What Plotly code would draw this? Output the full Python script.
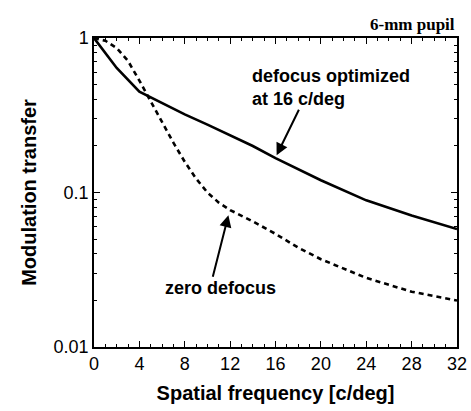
import plotly.graph_objects as go

# Data
freq_opt = [0, 2, 4, 6, 8, 10, 12, 14, 16, 20, 24, 28, 32]
mtf_opt = [1.0, 0.64, 0.45, 0.38, 0.32, 0.275, 0.235, 0.2, 0.167, 0.12, 0.089, 0.071, 0.058]

freq_zero = [0, 1, 2, 3, 4, 5, 6, 7, 8, 9, 10, 11, 12, 14, 16, 18, 20, 24, 28, 32]
mtf_zero = [1.0, 0.96, 0.86, 0.71, 0.53, 0.39, 0.285, 0.21, 0.158, 0.123, 0.1, 0.086, 0.077,
            0.065, 0.054, 0.044, 0.037, 0.028, 0.0228, 0.020]

x_ticks = [0, 4, 8, 12, 16, 20, 24, 28, 32]

SANS = "Liberation Sans"

fig = go.Figure()
fig.add_trace(go.Scatter(x=freq_opt, y=mtf_opt, mode="lines",
                         line=dict(color="black", width=2.6), showlegend=False))
fig.add_trace(go.Scatter(x=freq_zero, y=mtf_zero, mode="lines",
                         line=dict(color="black", width=2.6, dash="5px,4px"), showlegend=False))

fig.update_layout(
    width=471, height=411,
    margin=dict(l=94, r=14, t=38, b=64),
    paper_bgcolor="white", plot_bgcolor="white",
    font=dict(family=SANS, color="black"),
)

fig.update_xaxes(
    range=[0, 32], tickmode="array", tickvals=x_ticks,
    ticks="inside", ticklen=6, tickwidth=1.3, tickcolor="black",
    showline=True, linecolor="black", linewidth=1.5, mirror="ticks",
    showgrid=False, zeroline=False, automargin=False,
    tickfont=dict(family=SANS, size=18),
    minor=dict(dtick=1, tick0=0, ticks="inside", ticklen=3, tickwidth=1.2, tickcolor="black", showgrid=False),
    title=dict(text="Spatial frequency [c/deg]", font=dict(family=SANS, size=20, weight="bold"), standoff=13),
)
fig.update_yaxes(
    type="log", range=[-2, 0], dtick=1, tick0=0,
    ticks="inside", ticklen=6, tickwidth=1.3, tickcolor="black",
    showline=True, linecolor="black", linewidth=1.5, mirror="ticks",
    showgrid=False, zeroline=False, automargin=False,
    tickfont=dict(family=SANS, size=18),
    minor=dict(dtick="D1", ticks="inside", ticklen=3, tickwidth=1.2, tickcolor="black", showgrid=False),
    title=dict(text="Modulation transfer", font=dict(family=SANS, size=20, weight="bold"), standoff=12),
)

fig.add_annotation(xref="paper", yref="paper", x=(250 - 94) / 363, y=1 - (88 - 38) / 309,
                   text="defocus optimized<br>at 16 c/deg", showarrow=False, align="left",
                   xanchor="left", yanchor="middle",
                   font=dict(family=SANS, size=18, weight="bold"))
fig.add_annotation(xref="paper", yref="paper", x=(220 - 94) / 363, y=1 - (288 - 38) / 309,
                   text="zero defocus", showarrow=False,
                   xanchor="center", yanchor="middle",
                   font=dict(family=SANS, size=18, weight="bold"))
fig.add_annotation(xref="paper", yref="paper", x=1, y=1 - (24 - 38) / 309,
                   text="6-mm pupil", showarrow=False, xanchor="right", yanchor="middle",
                   font=dict(family="Liberation Serif", size=17, weight="bold"))
fig.add_annotation(x=16.1, y=-0.759, xref="x", yref="y", text="", showarrow=True,
                   ax=23, ay=-47, arrowhead=2, arrowsize=1.2, arrowwidth=2, arrowcolor="black")
fig.add_annotation(x=11.85, y=-1.147, xref="x", yref="y", text="", showarrow=True,
                   ax=-16, ay=63, arrowhead=2, arrowsize=1.2, arrowwidth=2, arrowcolor="black")

# Remove the default page margin and force a full repaint once plotting has finished
js = r"""
document.body.style.margin='0px';
setTimeout(function(){
  var gd=document.getElementsByClassName('plotly-graph-div')[0];
  var n=gd.querySelectorAll('path.ticks').length;
  gd.style.display='none'; void gd.offsetHeight; gd.style.display='';
  var d=document.createElement('div');
  d.style.cssText='position:absolute;top:396px;left:0px;width:40px;height:12px;font:9px monospace;color:white;background:white;z-index:9';
  d.textContent='\u00a0';
  d.setAttribute('data-n', String(n));
  document.body.appendChild(d);
}, 300);
"""
fig.write_html("out.html", post_script=js, config={"displayModeBar": False})
